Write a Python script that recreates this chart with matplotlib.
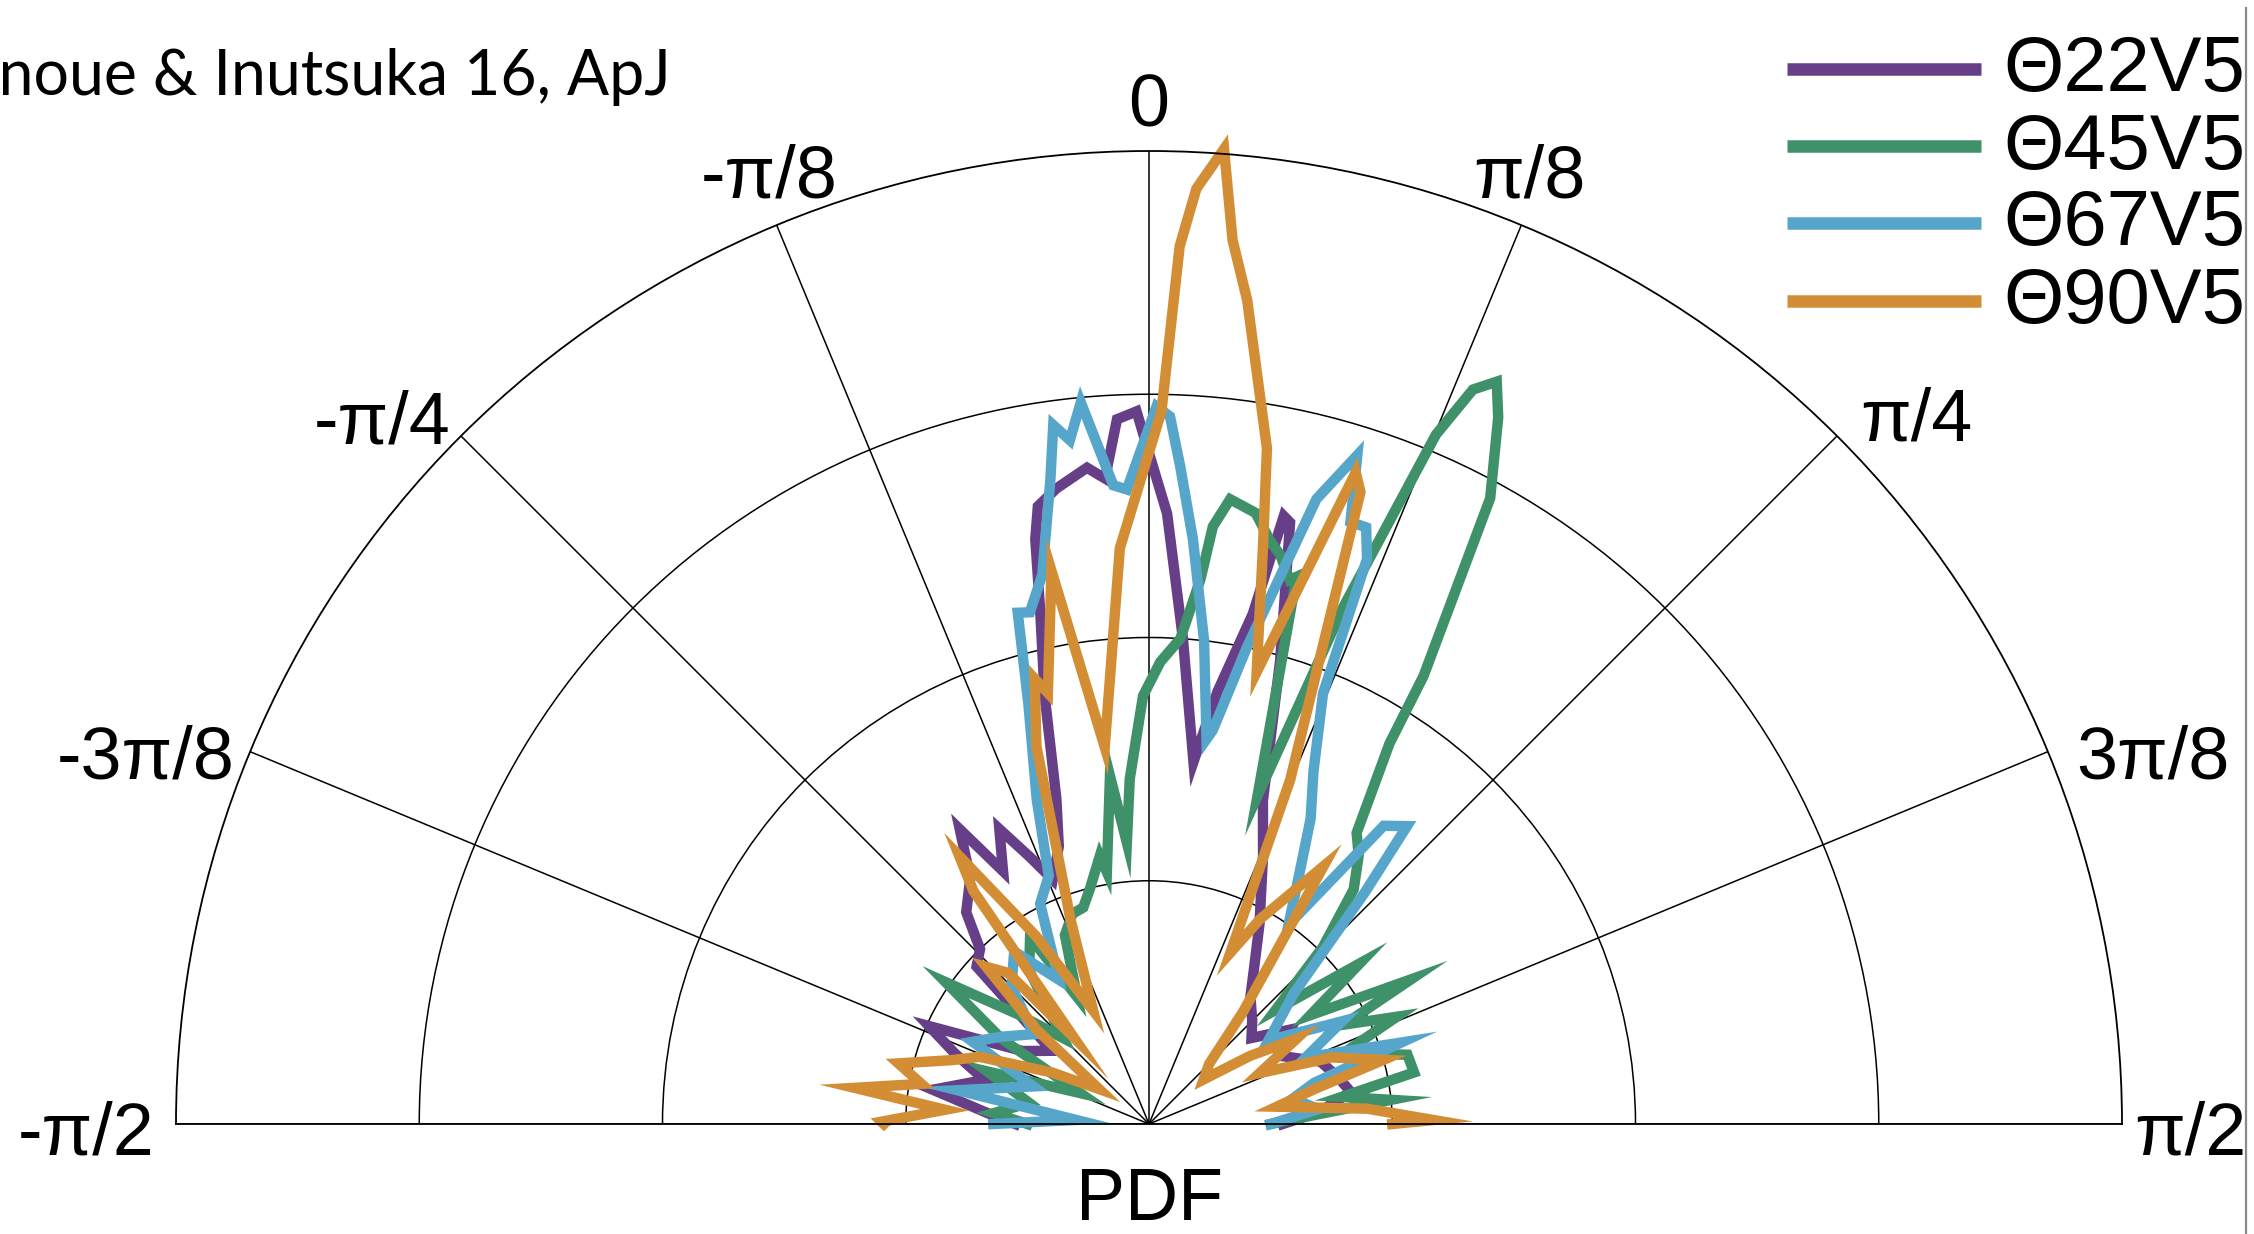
import numpy as np
import matplotlib
matplotlib.use("Agg")
import matplotlib.pyplot as plt
from matplotlib.lines import Line2D
from matplotlib.patches import Rectangle

# Angular PDFs: angle in degrees (0 = up, positive to the right), PDF value
series_names = ["\u039822V5", "\u039845V5", "\u039867V5", "\u039890V5"]
series_colors = ["#663f88", "#3e9169", "#56a6cb", "#d38e35"]

theta_22 = [-90, -86, -81, -75, -70, -66, -60, -53, -47.6, -44, -40.8, -36, -32.7, -30, -26.9,
            -24, -21.5, -18, -15.9, -13.7, -12, -11, -10.2, -8.3, -5.4, -3.9, -2.6, -1, -0.2,
            1.7, 4, 7, 9, 11.5, 12.5, 13.2, 15.8, 19.4, 23, 28.9, 33, 38.5, 45, 50, 56.3, 62,
            70, 76, 81, 86, 90]
pdf_22 = [0.55, 0.67, 0.90, 0.7, 0.85, 0.99, 0.6, 0.5, 0.96, 1.0, 1.15, 1.25, 1.44, 1.2, 1.36,
          1.2, 1.08, 1.2, 1.39, 1.81, 2.15, 2.45, 2.58, 2.64, 2.71, 2.66, 2.90, 2.93, 2.79,
          2.51, 2.0, 1.50, 1.8, 2.14, 2.56, 2.54, 1.98, 1.41, 1.2, 0.94, 0.8, 0.67, 0.6, 0.55,
          0.70, 0.6, 0.75, 0.8, 0.84, 0.7, 0.55]

theta_45 = [-90, -86, -80, -72, -65.8, -60, -55.1, -50, -45, -38, -32.5, -29.5, -24, -20,
            -16.9, -14, -10.4, -9.5, -6.4, -4.5, -3.2, -0.8, 1.4, 3.7, 5.4, 6.1, 7.4, 9.9, 11.7,
            13, 14.5, 15.1, 18.3, 20.6, 22.6, 23.8, 25.1, 26.3, 28.6, 31.5, 32.3, 35.5, 38, 41.1,
            44.5, 48, 52.7, 56, 61.1, 63, 66.6, 70, 75, 79, 82, 84.3, 88, 90]
pdf_45 = [0.5, 0.64, 0.5, 0.7, 0.31, 0.7, 1.02, 0.7, 0.5, 0.8, 0.91, 0.60, 0.85, 0.92,
          0.93, 1.0, 1.12, 1.05, 1.44, 1.16, 1.42, 1.76, 1.90, 2.0, 2.25, 2.47, 2.59, 2.55, 2.45,
          2.4, 2.31, 2.33, 1.42, 2.27, 3.07, 3.30, 3.37, 3.24, 2.93, 2.16, 1.85, 1.47, 1.4,
          1.28, 1.02, 0.7, 1.09, 0.8, 1.23, 0.9, 1.11, 0.85, 1.1, 1.11, 0.8, 1.0, 0.6, 0.5]

theta_67 = [-90, -86.8, -80, -72, -65, -59.7, -52, -45, -38, -32, -26.3, -22, -19.1, -16,
            -14.4, -13.1, -11, -8.7, -7.8, -6.6, -5.4, -3.2, -2.0, 0.6, 1.7, 2.7, 4.3, 6.5, 8.5,
            9.2, 11.6, 15.0, 17.3, 18.5, 20.0, 21.1, 22.0, 25, 27.9, 31, 35, 38.2, 40.9, 43, 48,
            55, 62, 67, 72.1, 76, 80, 85, 90]
pdf_67 = [0.64, 0.30, 0.8, 0.5, 0.8, 0.71, 0.6, 0.8, 0.9, 0.7, 1.01, 1.1, 1.41, 1.8,
          2.17, 2.16, 2.3, 2.68, 2.90, 2.83, 2.98, 2.63, 2.61, 2.95, 2.91, 2.71, 2.41, 2.0, 1.60,
          1.64, 2.0, 2.66, 2.88, 2.61, 2.61, 2.49, 1.91, 1.6, 1.42, 1.2, 1.0, 1.56, 1.62, 1.3,
          0.8, 0.6, 0.9, 0.7, 1.09, 0.7, 0.6, 0.7, 0.5]

theta_90 = [-90, -89.5, -86, -83, -80, -76.4, -72, -68.4, -62, -55, -50, -46, -43, -41, -37,
            -35.3, -31, -26.2, -21, -16.6, -14.4, -13.2, -10, -6.7, -2.9, 1.0, 2.0, 2.9, 4.4,
            5.4, 6.8, 9.9, 11.2, 13.4, 17.6, 18.5, 22.3, 25.4, 28.5, 34.1, 40, 45, 50.8, 56, 60,
            65.3, 70, 74.7, 78, 82.3, 86, 89.2, 90]
pdf_90 = [1.09, 1.10, 0.84, 1.22, 0.95, 1.06, 0.85, 0.75, 0.45, 0.25, 0.6, 0.93, 0.85, 0.47,
          1.2, 1.35, 0.9, 0.52, 0.9, 1.62, 1.89, 1.82, 2.31, 1.56, 2.37, 2.93, 3.61, 3.85, 4.02,
          3.65, 3.41, 2.82, 2.41, 1.91, 2.81, 2.74, 1.53, 0.78, 0.96, 1.28, 0.6, 0.35, 0.29,
          0.5, 0.7, 0.50, 0.8, 1.0, 0.7, 0.53, 0.9, 1.17, 1.0]

grid_angles = np.arange(-90, 90.1, 22.5)
tick_labels = ["-\u03c0/2", "-3\u03c0/8", "-\u03c0/4", "-\u03c0/8", "0",
               "\u03c0/8", "\u03c0/4", "3\u03c0/8", "\u03c0/2"]
# label anchor (angle, radius) just outside the outer ring
label_pos = [(-90.6, 4.37), (-70, 4.39), (-47.6, 4.27), (-21.9, 4.19), (0, 4.18),
             (21.9, 4.19), (47.5, 4.28), (70, 4.39), (90.6, 4.28)]

W, H = 2254, 1234
fig = plt.figure(figsize=(W / 100, H / 100), dpi=100)
# half-disc centre and outer radius in pixels; the polar wedge is fitted
# (centred) inside a square axes box, so size the box accordingly
cx, cy, R = 1149, 1124, 973
S = 2 * R
box_top = cy - 0.75 * S
ax = fig.add_axes([(cx - R) / W, 1 - (box_top + S) / H, S / W, S / H], projection="polar")
ax.set_theta_zero_location("N")
ax.set_theta_direction(-1)
ax.set_thetamin(-90)
ax.set_thetamax(90)
ax.set_rlim(0, 4)
ax.set_rticks([1, 2, 3])
ax.set_yticklabels([])
ax.set_thetagrids(grid_angles, labels=[""] * len(grid_angles))
ax.tick_params(length=0)
ax.grid(True, color="black", lw=1.1)
for sp in ax.spines.values():
    sp.set_color("black")
    sp.set_linewidth(1.3)

label_font = dict(family="Liberation Sans", fontsize=53, color="black")
for (ang, rr), lab in zip(label_pos, tick_labels):
    ax.text(np.deg2rad(ang), rr, lab, ha="center", va="center", clip_on=False, **label_font)

all_theta = [theta_22, theta_45, theta_67, theta_90]
all_pdf = [pdf_22, pdf_45, pdf_67, pdf_90]
for th, pdf, col in zip(all_theta, all_pdf, series_colors):
    ax.plot(np.deg2rad(th), pdf, color=col, lw=7.5, solid_joinstyle="miter", clip_on=False)

fig.text(1150 / W, 1 - 1200 / H, "PDF", ha="center", va="center", **label_font)

# legend drawn as figure artists
leg_y = [69, 146, 223, 301]
for yy, col, name in zip(leg_y, series_colors, series_names):
    fig.add_artist(Line2D([1787 / W, 1981 / W], [1 - yy / H, 1 - yy / H], color=col, lw=9,
                          solid_capstyle="butt"))
    fig.text(2003 / W, 1 - (yy + 2) / H, name, ha="left", va="center",
             family="Liberation Sans", fontsize=56, color="black")

# citation in the top-left corner
cite = "Inoue & Inutsuka 16, ApJ"
probe = fig.text(0, 0, cite[1:], fontsize=40, family="Lato")
fig.canvas.draw()
pw = probe.get_window_extent().width
probe.remove()
fig.text(671 / W, 1 - 95 / H, cite, fontsize=40 * 671 / pw, family="Lato",
         ha="right", va="baseline", color="black")

# right page edge
fig.add_artist(Rectangle((2247 / W, 0), 10 / W, 1, transform=fig.transFigure,
                         facecolor="white", edgecolor="none", zorder=10))
fig.add_artist(Line2D([2246 / W, 2246 / W], [0, 1 - 8 / H], color="#8a8a8a", lw=1.6, zorder=11))

fig.savefig("out.png", dpi=100)
